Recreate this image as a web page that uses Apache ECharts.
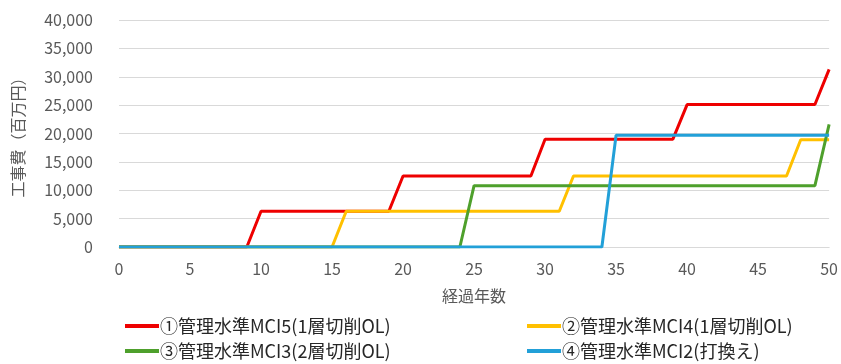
<!DOCTYPE html>
<html>
<head>
<meta charset="utf-8">
<script src="https://cdn.jsdelivr.net/npm/echarts@6/dist/echarts.min.js"></script>
<style>
  html, body { margin: 0; padding: 0; background: #ffffff; }
  #chart { width: 841px; height: 364px; }
</style>
</head>
<body>
<div id="chart"></div>
<script>
// Elapsed years (category axis)
const years = ['0','1','2','3','4','5','6','7','8','9','10','11','12','13','14','15','16','17','18','19','20',
  '21','22','23','24','25','26','27','28','29','30','31','32','33','34','35','36','37','38','39','40',
  '41','42','43','44','45','46','47','48','49','50'];

// Cumulative construction cost (million yen) for each management level
const mci5Cost = [0,0,0,0,0,0,0,0,0,0,
  6300,6300,6300,6300,6300,6300,6300,6300,6300,6300,
  12500,12500,12500,12500,12500,12500,12500,12500,12500,12500,
  19000,19000,19000,19000,19000,19000,19000,19000,19000,19000,
  25100,25100,25100,25100,25100,25100,25100,25100,25100,25100,
  31300];
const mci4Cost = [0,0,0,0,0,0,0,0,0,0,0,0,0,0,0,0,
  6300,6300,6300,6300,6300,6300,6300,6300,6300,6300,6300,6300,6300,6300,6300,6300,
  12500,12500,12500,12500,12500,12500,12500,12500,12500,12500,12500,12500,12500,12500,12500,12500,
  18900,18900,18900];
const mci3Cost = [0,0,0,0,0,0,0,0,0,0,0,0,0,0,0,0,0,0,0,0,0,0,0,0,0,
  10800,10800,10800,10800,10800,10800,10800,10800,10800,10800,10800,10800,10800,
  10800,10800,10800,10800,10800,10800,10800,10800,10800,10800,10800,10800,
  21600];
const mci2Cost = [0,0,0,0,0,0,0,0,0,0,0,0,0,0,0,0,0,0,0,0,0,0,0,0,0,0,0,0,0,0,0,0,0,0,0,
  19700,19700,19700,19700,19700,19700,19700,19700,19700,19700,19700,19700,19700,19700,19700,19700];

const seriesNames = [
  '①管理水準MCI5(1層切削OL)',
  '②管理水準MCI4(1層切削OL)',
  '③管理水準MCI3(2層切削OL)',
  '④管理水準MCI2(打換え)'
];
const seriesColors = ['#ee0000', '#ffc000', '#4ea02c', '#22a0d8'];
const seriesData = [mci5Cost, mci4Cost, mci3Cost, mci2Cost];

const FONT = '"Noto Sans CJK JP", "Noto Sans", sans-serif';
const GRAY = '#595959';

const chart = echarts.init(document.getElementById('chart'), null, { renderer: 'canvas' });

const legendCommon = {
  orient: 'vertical',
  icon: 'rect',
  padding: 0,
  itemWidth: 34,
  itemHeight: 4,
  itemGap: 7,
  textStyle: { fontFamily: FONT, fontSize: 18, color: '#262626', padding: [0, 0, 0, -4] }
};

chart.setOption({
  animation: false,
  backgroundColor: '#ffffff',
  grid: { left: 119, right: 11, top: 20, bottom: 117, containLabel: false },
  legend: [
    Object.assign({ left: 125, top: 317, data: [seriesNames[0], seriesNames[2]] }, legendCommon),
    Object.assign({ left: 527, top: 317, data: [seriesNames[1], seriesNames[3]] }, legendCommon)
  ],
  xAxis: {
    type: 'category',
    data: years,
    boundaryGap: false,
    name: '経過年数',
    nameLocation: 'middle',
    nameGap: 41,
    nameTextStyle: { fontFamily: FONT, fontSize: 16, color: GRAY },
    axisLine: { show: true, lineStyle: { color: '#d9d9d9', width: 1 } },
    axisTick: { show: false },
    axisLabel: { interval: 4, margin: 14, fontFamily: FONT, fontSize: 16, color: GRAY },
    splitLine: { show: false }
  },
  yAxis: {
    type: 'value',
    min: 0,
    max: 40000,
    interval: 5000,
    name: '工事費（百万円）',
    nameLocation: 'middle',
    nameGap: 93,
    nameRotate: 90,
    nameTextStyle: { fontFamily: FONT, fontSize: 16, color: GRAY },
    axisLine: { show: false },
    axisTick: { show: false },
    axisLabel: {
      margin: 26,
      fontFamily: FONT,
      fontSize: 16,
      color: GRAY,
      formatter: v => v.toLocaleString('en-US')
    },
    splitLine: { lineStyle: { color: '#d9d9d9', width: 1 } }
  },
  series: seriesNames.map((name, i) => ({
    name: name,
    type: 'line',
    data: seriesData[i],
    symbol: 'none',
    color: seriesColors[i],
    lineStyle: { width: 3, color: seriesColors[i] },
    z: 2 + i
  }))
});
</script>
</body>
</html>
